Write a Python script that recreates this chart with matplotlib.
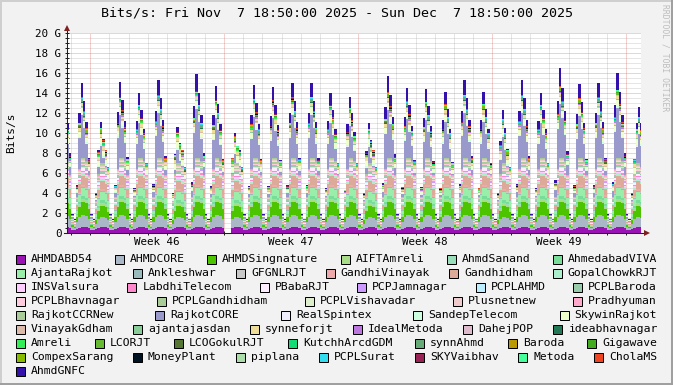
import numpy as np
import matplotlib
matplotlib.use('Agg')
import matplotlib.pyplot as plt
import matplotlib.dates as mdates
from matplotlib.patches import Rectangle
from matplotlib.lines import Line2D
from datetime import datetime, timedelta

nan = None

names = ['AHMDABD54', 'AHMDCORE', 'AHMDSingnature', 'AIFTAmreli', 'AhmdSanand', 'AhmedabadVIVA',
         'AjantaRajkot', 'Ankleshwar', 'GFGNLRJT', 'GandhiVinayak', 'Gandhidham', 'GopalChowkRJT',
         'INSValsura', 'LabdhiTelecom', 'PBabaRJT', 'PCPJamnagar', 'PCPLAHMD', 'PCPLBaroda',
         'PCPLBhavnagar', 'PCPLGandhidham', 'PCPLVishavadar', 'Plusnetnew', 'Pradhyuman',
         'RajkotCCRNew', 'RajkotCORE', 'RealSpintex', 'SandepTelecom', 'SkywinRajkot',
         'VinayakGdham', 'ajantajasdan', 'synneforjt', 'IdealMetoda', 'DahejPOP', 'ideabhavnagar',
         'Amreli', 'LCORJT', 'LCOGokulRJT', 'KutchhArcdGDM', 'synnAhmd', 'Baroda', 'Gigawave',
         'CompexSarang', 'MoneyPlant', 'piplana', 'PCPLSurat', 'SKYVaibhav', 'Metoda', 'CholaMS',
         'AhmdGNFC']

colors = ['#9A12B3', '#A9B7C6', '#4CC400', '#A8DC88', '#99DDBB', '#77DD99',
          '#99EEAA', '#99BBBB', '#C8C8C8', '#EEAAAA', '#DDAA99', '#AAEECC',
          '#FFCCFF', '#FF88CC', '#FFEEFF', '#CC99FF', '#BBEEFF', '#99CCAA',
          '#FFCCDD', '#AACC99', '#DDEECC', '#EECCCC', '#FFAACC',
          '#AACC99', '#9999CC', '#EEEEFF', '#CCFFDD', '#EEFFCC',
          '#DDBBAA', '#88CC99', '#EEDD99', '#BB77DD', '#DDBBCC', '#227755',
          '#33EE55', '#66BB33', '#557733', '#11DD77', '#66AA77', '#BB9900', '#44AA22',
          '#88BB00', '#001122', '#AADDAA', '#33DDEE', '#992255', '#44FF99', '#EE4422',
          '#3311AA']

legend_row_sizes = [6, 6, 6, 5, 5, 6, 7, 7, 1]

# 3-hour averages (blocks starting 00, 03, ... 21 h), one row per day Nov 7 .. Dec 7, Gbit/s
slot_hours = [0, 3, 6, 9, 12, 15, 18, 21]

rajkotcore = [
    [nan, nan, nan, nan, nan, nan, 1.69, 0.80],
    [0.20, 0.15, 0.38, 3.10, 4.28, 2.95, 1.74, 0.42],
    [0.20, 0.15, 0.04, 0.74, 1.75, 0.56, 0.08, 0.04],
    [0.21, 0.15, 0.40, 3.13, 4.33, 3.03, 1.81, 0.47],
    [0.20, 0.15, 0.12, 2.48, 3.51, 2.30, 1.20, 0.05],
    [0.20, 0.15, 0.44, 3.26, 4.48, 3.16, 1.92, 0.54],
    [0.20, 0.15, 0.03, 0.45, 1.38, 0.23, 0.06, 0.03],
    [0.21, 0.16, 0.58, 3.62, 4.93, 3.56, 2.26, 0.77],
    [0.20, 0.15, 0.29, 2.90, 4.03, 2.77, 1.59, 0.32],
    [nan, nan, nan, 0.11, 0.93, 0.04, 0.04, 0.03],
    [0.20, 0.15, 0.32, 2.96, 4.11, 2.83, 1.64, 0.35],
    [0.20, 0.15, 0.26, 2.84, 3.96, 2.70, 1.53, 0.28],
    [0.21, 0.15, 0.38, 3.12, 4.26, 2.96, 1.72, 0.44],
    [0.20, 0.16, 0.36, 3.08, 4.30, 2.94, 1.76, 0.40],
    [0.20, 0.15, 0.12, 2.46, 3.53, 2.31, 1.19, 0.06],
    [0.20, 0.15, 0.02, 2.24, 3.21, 2.04, 0.98, 0.04],
    [0.20, 0.15, 0.04, 0.68, 1.67, 0.49, 0.08, 0.04],
    [0.21, 0.15, 0.53, 3.50, 4.78, 3.43, 2.15, 0.69],
    [0.20, 0.15, 0.24, 2.78, 3.88, 2.63, 1.48, 0.24],
    [0.20, 0.15, 0.22, 2.72, 3.81, 2.57, 1.43, 0.20],
    [0.20, 0.15, 0.14, 2.54, 3.58, 2.37, 1.25, 0.09],
    [0.21, 0.15, 0.43, 3.25, 4.49, 3.15, 1.93, 0.53],
    [0.20, 0.16, 0.15, 2.53, 3.59, 2.36, 1.26, 0.10],
    [0.20, 0.15, 0.04, 1.41, 2.65, 1.32, 0.11, 0.04],
    [0.20, 0.15, 0.44, 3.26, 4.48, 3.16, 1.92, 0.54],
    [0.20, 0.15, 0.12, 2.48, 3.51, 2.30, 1.20, 0.05],
    [0.21, 0.16, 0.72, 3.98, 5.38, 3.95, 2.59, 0.99],
    [0.20, 0.15, 0.34, 3.02, 4.18, 2.90, 1.70, 0.39],
    [0.20, 0.15, 0.38, 3.10, 4.28, 2.95, 1.74, 0.42],
    [0.21, 0.16, 0.60, 3.68, 5.01, 3.62, 2.31, 0.80],
    [0.20, 0.15, 0.04, 0.04, 1.67, 2.92, 2.09, 0.38],
]

ahmdgnfc = [
    [nan, nan, nan, nan, nan, nan, 0.55, 0.27],
    [0.07, 0.05, 0.10, 1.00, 1.40, 1.00, 0.60, 0.15],
    [0.07, 0.05, 0.01, 0.24, 0.58, 0.18, 0.02, 0.01],
    [0.07, 0.05, 0.11, 1.05, 1.45, 1.01, 0.60, 0.15],
    [0.07, 0.05, 0.04, 0.82, 1.17, 0.77, 0.40, 0.02],
    [0.07, 0.05, 0.14, 1.08, 1.50, 1.05, 0.64, 0.18],
    [0.07, 0.05, 0.01, 0.15, 0.45, 0.08, 0.02, 0.01],
    [0.07, 0.05, 0.19, 1.20, 1.65, 1.18, 0.75, 0.25],
    [0.07, 0.05, 0.09, 0.96, 1.35, 0.92, 0.53, 0.10],
    [nan, nan, nan, 0.04, 0.30, 0.01, 0.01, 0.01],
    [0.07, 0.05, 0.10, 0.98, 1.37, 0.94, 0.55, 0.12],
    [0.07, 0.05, 0.09, 0.94, 1.32, 0.90, 0.51, 0.09],
    [0.07, 0.05, 0.10, 1.02, 1.42, 0.98, 0.58, 0.15],
    [0.07, 0.05, 0.11, 0.98, 1.38, 1.02, 0.60, 0.14],
    [0.07, 0.05, 0.04, 0.84, 1.15, 0.76, 0.41, 0.02],
    [0.07, 0.05, 0.01, 0.74, 1.07, 0.68, 0.32, 0.01],
    [0.07, 0.05, 0.01, 0.22, 0.56, 0.16, 0.02, 0.01],
    [0.07, 0.05, 0.17, 1.16, 1.60, 1.14, 0.71, 0.23],
    [0.07, 0.05, 0.08, 0.92, 1.30, 0.88, 0.49, 0.08],
    [0.07, 0.05, 0.07, 0.90, 1.27, 0.85, 0.47, 0.07],
    [0.07, 0.05, 0.05, 0.84, 1.20, 0.79, 0.42, 0.03],
    [0.07, 0.05, 0.15, 1.09, 1.49, 1.06, 0.63, 0.19],
    [0.07, 0.05, 0.04, 0.85, 1.19, 0.80, 0.41, 0.02],
    [0.07, 0.05, 0.01, 0.47, 0.88, 0.44, 0.04, 0.01],
    [0.07, 0.05, 0.14, 1.08, 1.50, 1.05, 0.64, 0.18],
    [0.07, 0.05, 0.04, 0.82, 1.17, 0.77, 0.40, 0.02],
    [0.07, 0.05, 0.24, 1.32, 1.80, 1.32, 0.86, 0.33],
    [0.07, 0.05, 0.11, 1.00, 1.40, 0.96, 0.57, 0.13],
    [0.07, 0.05, 0.10, 1.00, 1.40, 1.00, 0.60, 0.15],
    [0.07, 0.05, 0.20, 1.22, 1.67, 1.21, 0.77, 0.27],
    [0.07, 0.05, 0.01, 0.01, 0.56, 0.98, 0.70, 0.12],
]

full_series = {'RajkotCORE': rajkotcore, 'AhmdGNFC': ahmdgnfc}

# the other links: a typical working day (same 3 h blocks)
typical_day = {
    'AHMDABD54': [0.32, 0.30, 0.42, 0.55, 0.60, 0.60, 0.58, 0.50],
    'AHMDCORE': [0.30, 0.25, 0.65, 1.05, 1.20, 1.20, 1.15, 0.95],
    'AHMDSingnature': [0.15, 0.10, 0.55, 1.05, 1.30, 1.30, 1.25, 1.00],
    'AIFTAmreli': [0.03, 0.02, 0.09, 0.17, 0.20, 0.20, 0.19, 0.15],
    'AhmdSanand': [0.02, 0.01, 0.05, 0.10, 0.12, 0.12, 0.11, 0.09],
    'AhmedabadVIVA': [0.04, 0.03, 0.11, 0.21, 0.25, 0.25, 0.24, 0.19],
    'AjantaRajkot': [0.12, 0.08, 0.36, 0.68, 0.80, 0.80, 0.76, 0.60],
    'Ankleshwar': [0.02, 0.01, 0.05, 0.09, 0.10, 0.10, 0.10, 0.08],
    'GFGNLRJT': [0.01, 0.01, 0.04, 0.07, 0.08, 0.08, 0.08, 0.06],
    'GandhiVinayak': [0.03, 0.02, 0.09, 0.17, 0.20, 0.20, 0.19, 0.15],
    'Gandhidham': [0.08, 0.05, 0.40, 0.75, 0.90, 0.90, 0.85, 0.68],
    'GopalChowkRJT': [0.03, 0.02, 0.10, 0.19, 0.22, 0.22, 0.21, 0.17],
    'INSValsura': [0.02, 0.02, 0.07, 0.13, 0.15, 0.15, 0.14, 0.11],
    'LabdhiTelecom': [0.02, 0.01, 0.05, 0.10, 0.12, 0.12, 0.11, 0.09],
    'PBabaRJT': [0.04, 0.03, 0.11, 0.21, 0.25, 0.25, 0.24, 0.19],
    'PCPJamnagar': [0.01, 0.01, 0.03, 0.05, 0.06, 0.06, 0.06, 0.05],
    'PCPLAHMD': [0.01, 0.01, 0.02, 0.04, 0.05, 0.05, 0.05, 0.04],
    'PCPLBaroda': [0.03, 0.02, 0.09, 0.17, 0.20, 0.20, 0.19, 0.15],
    'PCPLBhavnagar': [0.02, 0.01, 0.05, 0.10, 0.12, 0.12, 0.11, 0.09],
    'PCPLGandhidham': [0.02, 0.02, 0.07, 0.13, 0.15, 0.15, 0.14, 0.11],
    'PCPLVishavadar': [0.02, 0.01, 0.05, 0.09, 0.10, 0.10, 0.10, 0.08],
    'Plusnetnew': [0.02, 0.01, 0.05, 0.09, 0.10, 0.10, 0.10, 0.08],
    'Pradhyuman': [0.02, 0.01, 0.05, 0.09, 0.10, 0.10, 0.10, 0.08],
    'RajkotCCRNew': [0.02, 0.02, 0.07, 0.13, 0.15, 0.15, 0.14, 0.11],
    'RealSpintex': [0.01, 0.01, 0.02, 0.04, 0.05, 0.05, 0.05, 0.04],
    'SandepTelecom': [0.01, 0.01, 0.04, 0.08, 0.09, 0.09, 0.09, 0.07],
    'SkywinRajkot': [0.04, 0.03, 0.20, 0.50, 0.60, 0.55, 0.45, 0.30],
    'VinayakGdham': [0.01, 0.01, 0.02, 0.04, 0.05, 0.05, 0.05, 0.04],
    'ajantajasdan': [0.01, 0.01, 0.03, 0.05, 0.06, 0.06, 0.06, 0.05],
    'synneforjt': [0.02, 0.02, 0.10, 0.25, 0.30, 0.28, 0.22, 0.15],
    'IdealMetoda': [0.01, 0.00, 0.02, 0.03, 0.04, 0.04, 0.04, 0.03],
    'DahejPOP': [0.01, 0.00, 0.02, 0.03, 0.04, 0.04, 0.04, 0.03],
    'ideabhavnagar': [0.01, 0.00, 0.02, 0.03, 0.04, 0.04, 0.04, 0.03],
    'Amreli': [0.01, 0.01, 0.02, 0.04, 0.05, 0.05, 0.05, 0.04],
    'LCORJT': [0.01, 0.00, 0.02, 0.03, 0.04, 0.04, 0.04, 0.03],
    'LCOGokulRJT': [0.00, 0.00, 0.01, 0.03, 0.03, 0.03, 0.03, 0.02],
    'KutchhArcdGDM': [0.01, 0.00, 0.02, 0.03, 0.04, 0.04, 0.04, 0.03],
    'synnAhmd': [0.01, 0.00, 0.02, 0.03, 0.04, 0.04, 0.04, 0.03],
    'Baroda': [0.00, 0.00, 0.01, 0.03, 0.03, 0.03, 0.03, 0.02],
    'Gigawave': [0.00, 0.00, 0.01, 0.03, 0.03, 0.03, 0.03, 0.02],
    'CompexSarang': [0.00, 0.00, 0.01, 0.03, 0.03, 0.03, 0.03, 0.02],
    'MoneyPlant': [0.00, 0.00, 0.01, 0.02, 0.02, 0.02, 0.02, 0.01],
    'piplana': [0.01, 0.00, 0.02, 0.03, 0.04, 0.04, 0.04, 0.03],
    'PCPLSurat': [0.01, 0.01, 0.02, 0.04, 0.05, 0.05, 0.05, 0.04],
    'SKYVaibhav': [0.01, 0.00, 0.02, 0.03, 0.04, 0.04, 0.04, 0.03],
    'Metoda': [0.01, 0.00, 0.02, 0.03, 0.04, 0.04, 0.04, 0.03],
    'CholaMS': [0.01, 0.01, 0.02, 0.04, 0.05, 0.05, 0.05, 0.04],
}

# lower levels on the quiet days
quiet_day = {
    'AHMDCORE': [0.30, 0.25, 0.50, 0.85, 1.00, 1.00, 0.95, 0.80],
    'AHMDSingnature': [0.15, 0.10, 0.40, 0.85, 1.10, 1.10, 1.05, 0.85],
    'Gandhidham': [0.08, 0.05, 0.30, 0.60, 0.75, 0.75, 0.70, 0.58],
}
quiet_dates = ['2025-11-09', '2025-11-13', '2025-11-16', '2025-11-23', '2025-11-30', '2025-12-07']

title = 'Bits/s: Fri Nov  7 18:50:00 2025 - Sun Dec  7 18:50:00 2025'
y_ticks = [0, 2, 4, 6, 8, 10, 12, 14, 16, 18, 20]
y_labels = ['0'] + ['%d G' % v for v in y_ticks[1:]]
week_labels = ['Week 46', 'Week 47', 'Week 48', 'Week 49']

# ---------------------------------------------------------------------------
start = datetime(2025, 11, 7, 18, 50)
end = datetime(2025, 12, 7, 18, 50)
first_day = datetime(2025, 11, 7)
n_days = len(rajkotcore)
day_list = [first_day + timedelta(days=d) for d in range(n_days)]
block_starts = [d + timedelta(hours=h) for d in day_list for h in slot_hours]
xb = mdates.date2num(block_starts)
step = 3 / 24

rows = []
for name in names:
    if name in full_series:
        rows.append(np.array(full_series[name], dtype=float).ravel())
    else:
        per_day = []
        for d in day_list:
            if d.strftime('%Y-%m-%d') in quiet_dates and name in quiet_day:
                per_day.extend(quiet_day[name])
            else:
                per_day.extend(typical_day[name])
        rows.append(np.array(per_day, dtype=float))
vals = np.array(rows)
vals[:, np.isnan(vals).any(axis=0)] = np.nan   # unknown samples blank the whole stack
tops = np.cumsum(vals, axis=0)

# each sample is a flat block over its 3 hours, as rrdtool draws it
xs = np.empty(2 * len(xb))
xs[0::2] = xb
xs[1::2] = xb + step
tops_s = np.repeat(tops, 2, axis=1)
vals_s = np.repeat(vals, 2, axis=1)

W, H = 673, 385
BACK = '#F2F2F2'
MONO = 'DejaVu Sans Mono'

fig = plt.figure(figsize=(W / 100, H / 100), dpi=100, facecolor=BACK)


def fx(px):
    return px / W


def fy(py):
    return 1 - py / H


ax = fig.add_axes([fx(67), fy(233), 574 / W, 200 / H])
ax.set_facecolor('white')
x0, x1 = mdates.date2num(start), mdates.date2num(end)
ax.set_xlim(x0, x1)
ax.set_ylim(0, 20)
for s in ax.spines.values():
    s.set_visible(False)


def px_x(px):
    return x0 + (px - 67) / 574 * (x1 - x0)


# grid
for v in np.arange(0.5, 20.01, 0.5):
    if v % 2 == 0:
        ax.axhline(v, color='#DE4F4F', alpha=0.55, lw=0.72, ls=(0, (1, 1)), zorder=1)
    else:
        ax.axhline(v, color='#8F8F8F', alpha=0.45, lw=0.72, ls=(0, (1, 1)), zorder=1)
midnights = [datetime(2025, 11, 8) + timedelta(days=k) for k in range(30)]
for m in midnights:
    if m.weekday() == 6:
        ax.axvline(mdates.date2num(m), color='#DE4F4F', alpha=0.55, lw=0.72, ls=(0, (1, 1)), zorder=1)
    else:
        ax.axvline(mdates.date2num(m), color='#8F8F8F', alpha=0.45, lw=0.72, ls=(0, (1, 1)), zorder=1)

# stacked areas
for i, c in enumerate(colors):
    ax.fill_between(xs, tops_s[i] - vals_s[i], tops_s[i], color=c, lw=0,
                    antialiased=False, zorder=2)

# axes lines and arrows
ax.plot([x0, x0], [0, 20.6], color='#1F1F1F', lw=0.75, clip_on=False, zorder=5)
ax.plot([px_x(64), px_x(645)], [0, 0], color='#1F1F1F', lw=0.75, clip_on=False, zorder=5)
ax.plot([x0], [20.55], marker='^', ms=4.2, color='#801F1F', clip_on=False, zorder=6, mew=0)
ax.plot([px_x(647)], [0], marker='>', ms=4.2, color='#801F1F', clip_on=False, zorder=6, mew=0)

ax.set_yticks(y_ticks)
ax.set_yticklabels(y_labels, fontfamily=MONO, fontsize=7.8)
ax.set_yticks(np.arange(0, 20.01, 0.5), minor=True)
ax.tick_params(axis='y', which='both', direction='inout', length=2.8, width=0.72,
               color='#1F1F1F', pad=2.6)

label_pos = [mdates.date2num(datetime(2025, 11, 12, 12) + timedelta(days=7 * k)) for k in range(4)]
ax.set_xticks(label_pos)
ax.set_xticklabels(week_labels, fontfamily=MONO, fontsize=7.8)
ax.set_xticks([mdates.date2num(m) for m in midnights], minor=True)
ax.tick_params(axis='x', which='major', length=0, pad=3.2)
ax.tick_params(axis='x', which='minor', direction='inout', length=2.8, width=0.72, color='#1F1F1F')

# texts
fig.text(fx(337), fy(13), title, ha='center', va='center', fontfamily=MONO, fontsize=9.6)
fig.text(fx(11), fy(133), 'Bits/s', rotation=90, ha='center', va='center',
         fontfamily=MONO, fontsize=8)
fig.text(fx(665), fy(4), 'RRDTOOL / TOBI OETIKER', rotation=270, ha='center', va='top',
         fontfamily=MONO, fontsize=5.8, color='#BDBDBD')

# legend, justified rows like rrdtool
renderer = fig.canvas.get_renderer()
idx = 0
for r, n in enumerate(legend_row_sizes):
    row_names = names[idx:idx + n]
    row_cols = colors[idx:idx + n]
    idx += n
    yc = 259 + 14 * r
    texts = [fig.text(0, fy(yc), nm, ha='left', va='center', fontfamily=MONO, fontsize=8.2)
             for nm in row_names]
    widths = [t.get_window_extent(renderer).width for t in texts]
    total = sum(15 + w for w in widths)
    gap = (657 - 16 - total) / (n - 1) if n > 1 and r < len(legend_row_sizes) - 1 else 0
    xpos = 16
    for t, w, c in zip(texts, widths, row_cols):
        fig.add_artist(Rectangle((fx(xpos), fy(yc + 4.5)), 9 / W, 9 / H, transform=fig.transFigure,
                                 facecolor=c, edgecolor='black', lw=0.72))
        t.set_x(fx(xpos + 15))
        xpos += 15 + w + gap

# frame
fig.add_artist(Line2D([0, 1], [fy(0.5), fy(0.5)], transform=fig.transFigure, color='#CFCFCF', lw=1.4))
fig.add_artist(Line2D([fx(0.5), fx(0.5)], [0, 1], transform=fig.transFigure, color='#CFCFCF', lw=1.4))
fig.add_artist(Line2D([0, 1], [fy(384), fy(384)], transform=fig.transFigure, color='#9E9E9E', lw=1.4))
fig.add_artist(Line2D([fx(672), fx(672)], [0, 1], transform=fig.transFigure, color='#9E9E9E', lw=1.4))

fig.savefig('out.png', dpi=100, facecolor=BACK)
